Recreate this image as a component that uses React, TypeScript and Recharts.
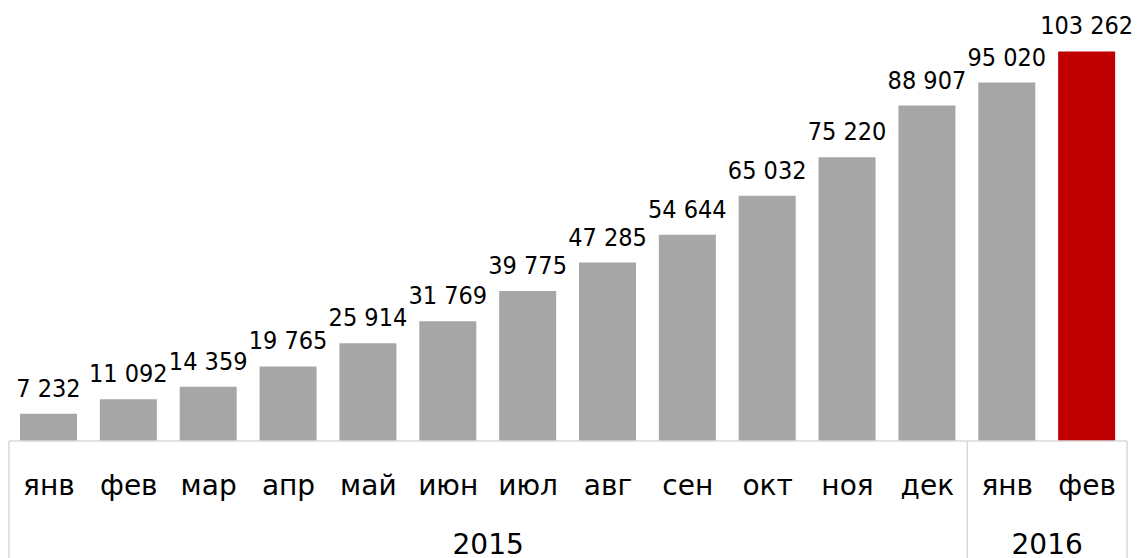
import React from 'react';
import { BarChart, Bar, XAxis, YAxis, Cell, LabelList } from 'recharts';

const months = ['янв', 'фев', 'мар', 'апр', 'май', 'июн', 'июл', 'авг', 'сен', 'окт', 'ноя', 'дек', 'янв', 'фев'];
const years = ['2015', '2015', '2015', '2015', '2015', '2015', '2015', '2015', '2015', '2015', '2015', '2015', '2016', '2016'];
const values = [7232, 11092, 14359, 19765, 25914, 31769, 39775, 47285, 54644, 65032, 75220, 88907, 95020, 103262];

const data = months.map((m, i) => ({ month: m, year: years[i], value: values[i] }));

const W = 1138;
const H = 558;
const MARGIN = { top: 26, right: 11, left: 9, bottom: 0 };
const AXIS_H = 117;
const BAND = (W - MARGIN.left - MARGIN.right) / months.length;
const FONT_VAL = '"DejaVu Sans Condensed", "DejaVu Sans", sans-serif';
const FONT_AX = '"DejaVu Sans", sans-serif';
const LINE = '#d9d9d9';

const fmt = (v: number) => String(v).replace(/\B(?=(\d{3})+(?!\d))/g, ' ');

const MonthTick = (props: any) => {
  const { x, y, payload } = props;
  const i = payload.index;
  const year = years[i];
  const isStart = i === 0 || years[i - 1] !== year;
  const groupLen = years.filter((yy) => yy === year).length;
  return (
    <g>
      <text x={x} y={y + 54} textAnchor="middle" fill="#000" fontSize={28} fontFamily={FONT_AX}>
        {payload.value}
      </text>
      {isStart && (
        <>
          <line x1={x - BAND / 2} x2={x - BAND / 2} y1={y} y2={y + AXIS_H} stroke={LINE} strokeWidth={1.5} />
          <text x={x - BAND / 2 + (groupLen * BAND) / 2} y={y + 113} textAnchor="middle" fill="#000" fontSize={28} fontFamily={FONT_AX}>
            {year}
          </text>
        </>
      )}
      {i === years.length - 1 && (
        <line x1={x + BAND / 2} x2={x + BAND / 2} y1={y} y2={y + AXIS_H} stroke={LINE} strokeWidth={1.5} />
      )}
    </g>
  );
};

const ValueLabel = (props: any) => {
  const { x, y, width, value } = props;
  return (
    <text x={Number(x) + Number(width) / 2} y={Number(y) - 17} textAnchor="middle" fill="#000" fontSize={25} fontFamily={FONT_VAL}>
      {fmt(Number(value))}
    </text>
  );
};

export default function App() {
  return (
    <div style={{ position: 'absolute', left: 0, top: 0, width: W, height: H, background: '#fff' }}>
      <BarChart width={W} height={H} data={data} margin={MARGIN}>
        <XAxis
          dataKey="month"
          interval={0}
          height={AXIS_H}
          tickSize={0}
          tickMargin={0}
          axisLine={{ stroke: LINE, strokeWidth: 1.5 }}
          tickLine={false}
          tick={<MonthTick />}
        />
        <YAxis hide domain={[0, 110000]} />
        <Bar dataKey="value" barSize={57} isAnimationActive={false}>
          {data.map((d, i) => (
            <Cell key={i} fill={i === data.length - 1 ? '#c00000' : '#a6a6a6'} />
          ))}
          <LabelList dataKey="value" content={<ValueLabel />} />
        </Bar>
      </BarChart>
    </div>
  );
}
